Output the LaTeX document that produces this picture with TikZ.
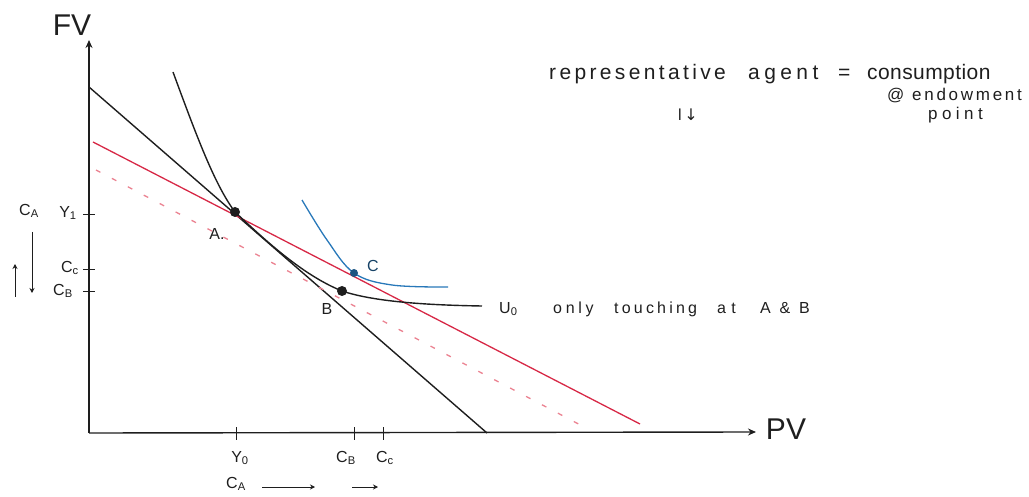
\documentclass[tikz,border=0pt]{standalone}
\usepackage{fontspec}
\setmainfont{Liberation Sans}
\newfontfamily\symfont{DejaVu Sans}
\usetikzlibrary{arrows.meta}
\definecolor{redl}{RGB}{215,40,70}
\definecolor{pinkd}{RGB}{235,130,145}
\definecolor{bluel}{RGB}{40,120,185}
\definecolor{ink}{RGB}{30,30,30}
\newcommand{\ls}[2]{{\addfontfeature{LetterSpace=#1}#2}}
\tikzset{
  axisline/.style={draw=ink, line width=1.4pt, -{Stealth[length=8pt,width=7pt]}},
  curveline/.style={draw=ink, line width=1.4pt},
  redline/.style={draw=redl, line width=1.3pt},
  pinkdash/.style={draw=pinkd, line width=1.3pt, dash pattern=on 5pt off 13pt},
  blueline/.style={draw=bluel, line width=1.3pt},
  dotpt/.style={circle, fill=ink, inner sep=0pt, minimum size=10pt},
  bdot/.style={circle, fill=bluel!70!black, inner sep=0pt, minimum size=8pt},
  hand/.style={font=\fontsize{16}{18}\selectfont, text=ink, inner sep=0pt},
  note/.style={font=\fontsize{21}{24}\selectfont, text=ink, inner sep=0pt, anchor=base west},
  note2/.style={font=\fontsize{17}{20}\selectfont, text=ink, inner sep=0pt, anchor=base west},
  unote/.style={font=\fontsize{16}{18}\selectfont, text=ink, inner sep=0pt, anchor=base west},
  big/.style={font=\fontsize{30}{32}\selectfont, text=ink, inner sep=0pt},
  tick/.style={draw=ink, line width=1pt},
  smallarrow/.style={draw=ink, line width=1pt, -{Stealth[length=5pt,width=5pt]}}
}
\begin{document}
\begin{tikzpicture}[x=1pt,y=-1pt]
\useasboundingbox (0,0) rectangle (1029,497);
% axes
\coordinate (O) at (89,433);
\coordinate (ytop) at (89,40);
\coordinate (xend) at (756,432);
\draw[axisline] (O) -- (ytop);
\draw[axisline] (O) -- (xend);
\node[big] (FV) at (72,25) {FV};
\node[big] (PV) at (786,429) {PV};
% named points
\coordinate (A) at (235,212);
\coordinate (B) at (342,291);
\coordinate (C) at (354,273);
\coordinate (Utop) at (173,72);
\coordinate (Uend) at (482,306);
% budget line through A (black)
\coordinate (b1) at (89,87);
\coordinate (b2) at (487,433);
\draw[curveline] (b1) -- (b2);
% red line
\coordinate (r1) at (93,142);
\coordinate (r2) at (640,424);
\draw[redline] (r1) -- (r2);
% pink dashed line
\coordinate (p1) at (96,170);
\coordinate (p2) at (588,429);
\draw[pinkdash] (p1) -- (p2);
% U0 indifference curve
\draw[curveline] (Utop) .. controls (198,140) and (215,185) .. (A)
  .. controls (270,245) and (305,276) .. (B)
  .. controls (372,301) and (420,305) .. (Uend);
% blue curve
\draw[blueline] plot[smooth, tension=0.6] coordinates {(302,200) (327,240) (C) (392,285) (448,287)};
% points
\node[dotpt] (Adot) at (A) {};
\node[dotpt] (Bdot) at (B) {};
\node[bdot] (Cdot) at (C) {};
\node[hand] (Alab) at (217,234) {A.};
\node[hand] (Blab) at (327,309) {B};
\node[hand, text=bluel!55!black] (Clab) at (373,266) {C};
% U0 label
\node[unote] (U0) at (499,313) {\ls{10}{U\textsubscript{0}}};
\node[unote] (w1) at (553,313) {\ls{23}{only}};
\node[unote] (w2) at (614,313) {\ls{20}{touching}};
\node[unote] (w3) at (717,313) {\ls{33}{at}};
\node[unote] (w4) at (760,313) {\ls{27}{A \& B}};
% y-axis ticks and labels
\foreach \yy/\nm in {215/ta,270/tc,292/tb}{
  \coordinate (\nm l) at (83,\yy); \coordinate (\nm r) at (95,\yy);
  \draw[tick] (\nm l) -- (\nm r);
}
\node[hand] (CAy) at (29,211) {C\textsubscript{A}};
\node[hand] (Y1) at (68,213) {Y\textsubscript{1}};
\node[hand] (Ccy) at (70,268) {C\textsubscript{c}};
\node[hand] (CBy) at (63,291) {C\textsubscript{B}};
\coordinate (da1) at (32,232); \coordinate (da2) at (32,293);
\draw[smallarrow] (da1) -- (da2);
\coordinate (ua1) at (15,297); \coordinate (ua2) at (15,264);
\draw[smallarrow] (ua1) -- (ua2);
% x-axis ticks and labels
\foreach \xx/\nm in {236/xa,354/xb,383/xc}{
  \coordinate (\nm t) at (\xx,427); \coordinate (\nm b) at (\xx,440);
  \draw[tick] (\nm t) -- (\nm b);
}
\node[hand] (Y0) at (240,458) {Y\textsubscript{0}};
\node[hand] (CBx) at (346,458) {C\textsubscript{B}};
\node[hand] (Ccx) at (385,458) {C\textsubscript{c}};
\node[hand] (CAx) at (236,484) {C\textsubscript{A}};
\coordinate (xa1) at (262,487); \coordinate (xa2) at (315,487);
\draw[smallarrow] (xa1) -- (xa2);
\coordinate (xb1) at (352,487); \coordinate (xb2) at (378,487);
\draw[smallarrow] (xb1) -- (xb2);
% top-right note
\node[note] (n1) at (549,80) {\ls{16}{representative}};
\node[note] (n2) at (748,80) {\ls{21}{agent}};
\node[note] (n3) at (838,80) {=};
\node[note] (n4) at (867,80) {\ls{2}{consumption}};
\node[note2] (n5) at (887,101) {@};
\node[note2] (n6) at (912,101) {\ls{16}{endowment}};
\node[note2] (n7) at (928,120) {\ls{26}{point}};
\node[hand] (n8) at (688,115) {l\,{\symfont ↓}};
\end{tikzpicture}
\end{document}
